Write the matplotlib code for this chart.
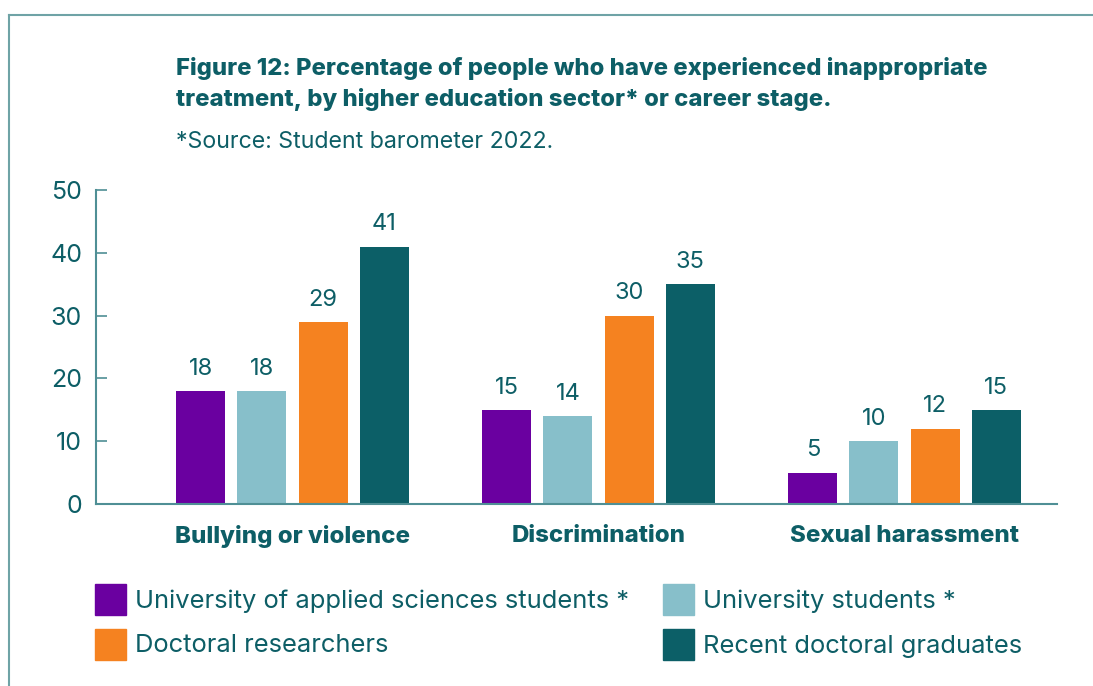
import matplotlib
matplotlib.use("Agg")
import matplotlib.pyplot as plt
import numpy as np
from matplotlib.lines import Line2D
from matplotlib.patches import Rectangle

# categories and series (percent)
categories = ["Bullying or violence", "Discrimination", "Sexual harassment"]
series_names = [
    "University of applied sciences students *",
    "University students *",
    "Doctoral researchers",
    "Recent doctoral graduates",
]
uas_students = [18, 15, 5]
uni_students = [18, 14, 10]
doc_researchers = [29, 30, 12]
recent_grads = [41, 35, 15]
y_ticks = [0, 10, 20, 30, 40, 50]

title = ("Figure 12: Percentage of people who have experienced inappropriate\n"
         "treatment, by higher education sector* or career stage.")
subtitle = "*Source: Student barometer 2022."

TEXT = "#0d5e66"
AXIS = "#4f8f95"
FRAME = "#6fa3a6"
colors = ["#6a00a0", "#87bfca", "#f58220", "#0c5f67"]

plt.rcParams["font.family"] = ["Inter", "DejaVu Sans"]

W, H = 1093, 686
fig = plt.figure(figsize=(W / 100, H / 100), dpi=100)
ax = fig.add_axes([96 / W, 1 - 504 / H, 961 / W, 314 / H])

series = [uas_students, uni_students, doc_researchers, recent_grads]
x = np.arange(len(categories))
offsets = [-0.30, -0.10, 0.10, 0.30]
width = 0.16
for vals, off, col in zip(series, offsets, colors):
    bars = ax.bar(x + off, vals, width=width, color=col)
    for b, v in zip(bars, vals):
        ax.annotate(str(v), (b.get_x() + b.get_width() / 2, v),
                    xytext=(0, 16), textcoords="offset points",
                    ha="center", va="center", fontsize=17, color=TEXT)

ax.set_xlim(-0.642, 2.498)
ax.set_ylim(0, 50)
ax.set_yticks(y_ticks)
ax.set_xticks(x)
ax.set_xticklabels(categories, fontsize=17.3, fontweight="heavy", color=TEXT)
ax.tick_params(axis="x", length=0, pad=15)
ax.tick_params(axis="y", direction="in", length=8, width=1.2, color=AXIS,
               labelsize=18, labelcolor=TEXT, pad=10)
for s in ["top", "right"]:
    ax.spines[s].set_visible(False)
for s in ["left", "bottom"]:
    ax.spines[s].set_color(AXIS)
    ax.spines[s].set_linewidth(1.5)

# titles
fig.text(176 / W, 1 - 84 / H, title, ha="left", va="center",
         fontsize=17.15, fontweight="heavy", color=TEXT, linespacing=1.42)
fig.text(176 / W, 1 - 142 / H, subtitle, ha="left", va="center",
         fontsize=16.7, color=TEXT)

# legend, two columns of square swatches
leg_pos = [(95, 600), (663, 600), (95, 645), (663, 645)]
for (lx, ly), name, col in zip(leg_pos, series_names, colors):
    fig.patches.append(Rectangle((lx / W, 1 - (ly + 15) / H), 31 / W, 31 / H,
                                 transform=fig.transFigure, color=col))
    fig.text((lx + 40) / W, 1 - (ly + 1) / H, name, ha="left", va="center",
             fontsize=18.4, color=TEXT)

# frame around the figure panel
fig.add_artist(Line2D([9 / W, 9 / W], [0, 1 - 15 / H], color=FRAME, lw=1.5))
fig.add_artist(Line2D([9 / W, 1], [1 - 15 / H, 1 - 15 / H], color=FRAME, lw=1.5))

fig.savefig("out.png", dpi=100)
